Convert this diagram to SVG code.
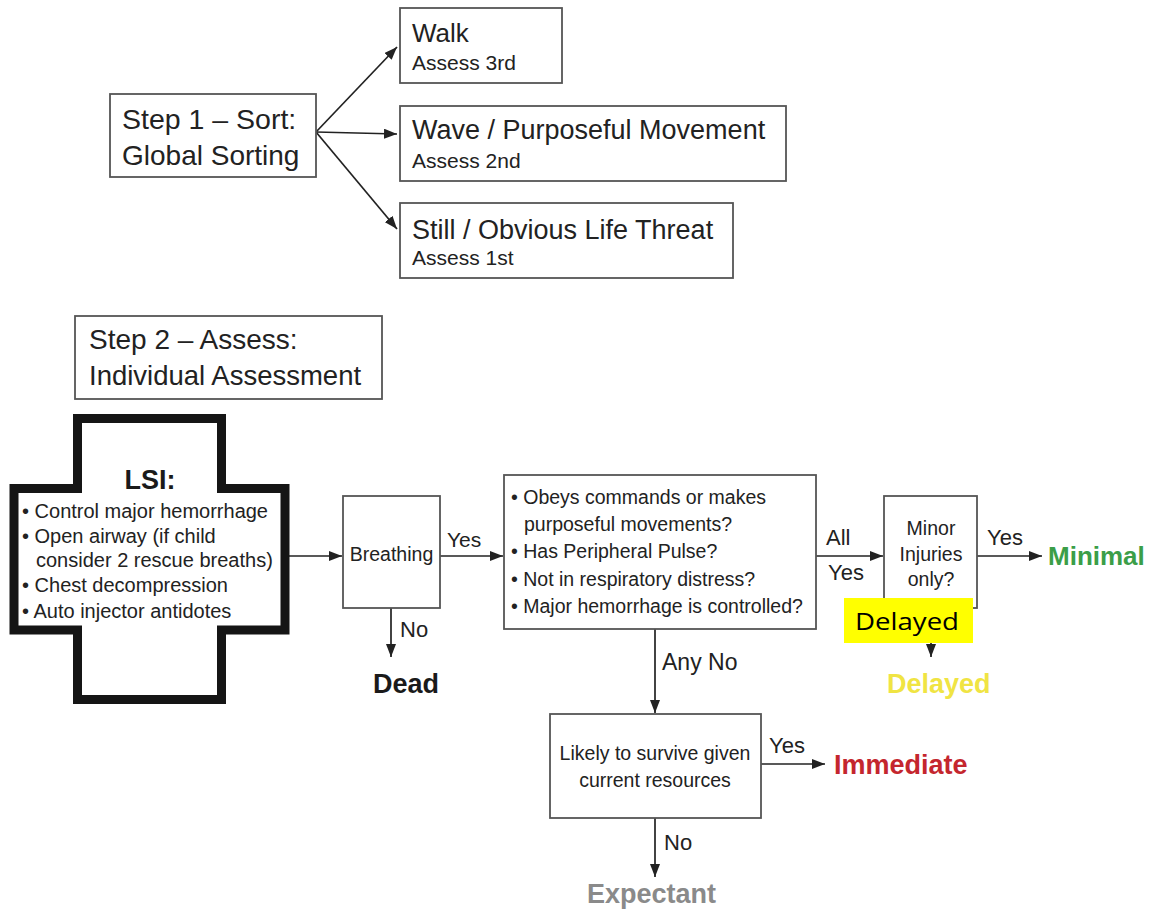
<svg xmlns="http://www.w3.org/2000/svg" width="1154" height="916" viewBox="0 0 1154 916">
<defs>
<marker id="ah" markerUnits="userSpaceOnUse" markerWidth="13" markerHeight="10" refX="13" refY="5" orient="auto">
<path d="M0,0 L13,5 L0,10 z" fill="#222"/>
</marker>
<style>
.box{fill:#fff;stroke:#555;stroke-width:1.8}
.t{font-family:"Liberation Sans",Arial,sans-serif;fill:#222}
.b{font-family:"Liberation Sans",Arial,sans-serif;font-weight:bold}
.c{stroke:#222;stroke-width:1.7;fill:none;marker-end:url(#ah)}
.l{stroke:#222;stroke-width:1.7;fill:none}
</style>
</defs>
<rect width="1154" height="916" fill="#fff"/>

<g id="connectors">
<line class="c" x1="316" y1="132" x2="397" y2="47"/>
<line class="c" x1="316" y1="132" x2="397" y2="134"/>
<line class="c" x1="316" y1="132" x2="397" y2="229"/>
<line class="c" x1="289" y1="556" x2="342" y2="556"/>
<line class="c" x1="440" y1="556" x2="503" y2="556"/>
<line class="c" x1="391" y1="608" x2="391" y2="657"/>
<line class="c" x1="816" y1="556" x2="883" y2="556"/>
<line class="c" x1="977" y1="556" x2="1042" y2="556"/>
<line class="c" x1="931" y1="608" x2="931" y2="657"/>
<line class="c" x1="655" y1="629" x2="655" y2="713"/>
<line class="c" x1="761" y1="764" x2="825" y2="764"/>
<line class="c" x1="655" y1="818" x2="655" y2="877"/>
<text class="t" x="447" y="547" font-size="21">Yes</text>
<text class="t" x="400" y="637" font-size="22">No</text>
<text class="t" x="826" y="545" font-size="22">All</text>
<text class="t" x="828" y="580" font-size="22">Yes</text>
<text class="t" x="987" y="545" font-size="22">Yes</text>
<text class="t" x="662" y="670" font-size="23">Any No</text>
<text class="t" x="769" y="753" font-size="22">Yes</text>
<text class="t" x="664" y="850" font-size="22">No</text>
</g>

<g id="step1">
<rect class="box" x="110" y="94" width="206" height="83"/>
<text class="t" x="122" y="129" font-size="28.5">Step 1 – Sort:</text>
<text class="t" x="122" y="165" font-size="28">Global Sorting</text>
</g>

<g id="walk">
<rect class="box" x="400" y="8" width="162" height="75"/>
<text class="t" x="412" y="42" font-size="26">Walk</text>
<text class="t" x="412" y="70" font-size="21">Assess 3rd</text>
</g>

<g id="wave">
<rect class="box" x="400" y="106" width="386" height="75"/>
<text class="t" x="412" y="139" font-size="27">Wave / Purposeful Movement</text>
<text class="t" x="412" y="168" font-size="21">Assess 2nd</text>
</g>

<g id="still">
<rect class="box" x="400" y="203" width="333" height="75"/>
<text class="t" x="412" y="239" font-size="27">Still / Obvious Life Threat</text>
<text class="t" x="412" y="265" font-size="21">Assess 1st</text>
</g>

<g id="step2">
<rect class="box" x="75" y="316" width="307" height="83"/>
<text class="t" x="89" y="349" font-size="28">Step 2 – Assess:</text>
<text class="t" x="89" y="385" font-size="27.5">Individual Assessment</text>
</g>

<g id="lsi">
<path d="M77.5,418.5 H221.5 V488.5 H285 V630 H221.5 V699.5 H77.5 V630 H14 V488.5 H77.5 Z" fill="#fff" stroke="#151515" stroke-width="9" stroke-linejoin="miter"/>
<text class="b" x="150" y="489" font-size="27" text-anchor="middle" fill="#1a1a1a">LSI:</text>
<g class="t" font-size="20">
<text x="22" y="518">• Control major hemorrhage</text>
<text x="22" y="543">• Open airway (if child</text>
<text x="36" y="567">consider 2 rescue breaths)</text>
<text x="22" y="592">• Chest decompression</text>
<text x="22" y="618">• Auto injector antidotes</text>
</g>
</g>

<g id="breathing">
<rect class="box" x="343" y="496" width="97" height="112"/>
<text class="t" x="391.5" y="561" font-size="19.5" text-anchor="middle">Breathing</text>
</g>

<g id="dead">
<text class="b" x="406" y="693" font-size="27" text-anchor="middle" fill="#1a1a1a">Dead</text>
</g>

<g id="questions">
<rect class="box" x="504" y="475" width="312" height="154"/>
<g class="t" font-size="19.5">
<text x="511" y="504">• Obeys commands or makes</text>
<text x="524" y="531">purposeful movements?</text>
<text x="511" y="558">• Has Peripheral Pulse?</text>
<text x="511" y="586">• Not in respiratory distress?</text>
<text x="511" y="613">• Major hemorrhage is controlled?</text>
</g>
</g>

<g id="minor">
<rect class="box" x="884" y="496" width="93" height="112"/>
<g class="t" font-size="19.5" text-anchor="middle">
<text x="931" y="535">Minor</text>
<text x="931" y="561">Injuries</text>
<text x="931" y="586">only?</text>
</g>
</g>

<g id="minimal">
<text class="b" x="1048" y="565" font-size="26" fill="#3b9e48">Minimal</text>
</g>

<g id="delayed-label">
<rect x="844" y="598" width="129" height="45" fill="#ffff00"/>
<text x="855" y="630" font-family="'Open Sans','Liberation Sans',sans-serif" font-size="24" fill="#000" textLength="104" lengthAdjust="spacingAndGlyphs">Delayed</text>
</g>

<g id="delayed">
<text class="b" x="887" y="693" font-size="27" fill="#f0e443">Delayed</text>
</g>

<g id="likely">
<rect class="box" x="550" y="714" width="211" height="104"/>
<g class="t" font-size="19.5" text-anchor="middle">
<text x="655" y="760">Likely to survive given</text>
<text x="655" y="787">current resources</text>
</g>
</g>

<g id="immediate">
<text class="b" x="834" y="774" font-size="27" fill="#c4262e">Immediate</text>
</g>

<g id="expectant">
<text class="b" x="587" y="903" font-size="27" fill="#8a8a8a">Expectant</text>
</g>
</svg>
